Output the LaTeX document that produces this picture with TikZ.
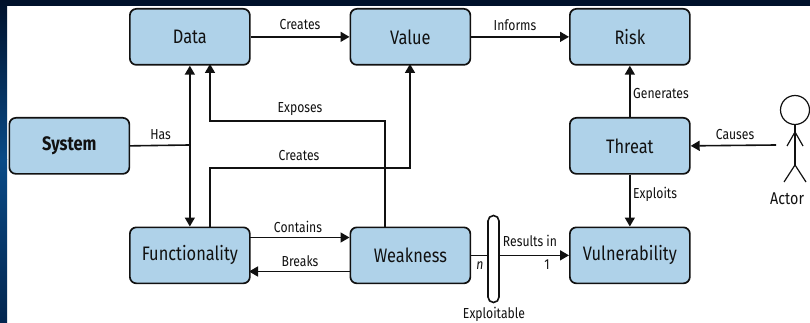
\documentclass[tikz,border=0pt]{standalone}
\usepackage{fontspec}
\setmainfont{Fira Sans}[FakeStretch=0.84]
\usetikzlibrary{arrows.meta,calc,shadings}
\definecolor{boxblue}{HTML}{AFD2E9}
\definecolor{inkc}{HTML}{111111}
\definecolor{navytop}{HTML}{00112B}
\definecolor{navymid}{HTML}{0A4A86}
\definecolor{navybot}{HTML}{03264F}
\tikzset{
  x=1pt,y=-1pt,
  box/.style={draw=inkc,line width=1.7pt,fill=boxblue,rounded corners=6.5pt,minimum width=120pt,minimum height=56pt,inner sep=0pt,font=\fontsize{19.5}{22}\selectfont,text=inkc,anchor=north west},
  lab/.style={font=\fontsize{14.5}{16}\selectfont,text=inkc,inner sep=0pt},
  conn/.style={draw=inkc,line width=1.6pt},
  arr/.style={conn,-{Triangle[length=9pt,width=10pt]}},
  darr/.style={conn,{Triangle[length=9pt,width=10pt]}-{Triangle[length=9pt,width=10pt]}},
  stick/.style={draw=inkc,line width=1.2pt}
}
\begin{document}
\begin{tikzpicture}
\useasboundingbox (0,0) rectangle (810,323);
\fill[white] (0,0) rectangle (810,323);
\fill[navytop] (0,0) rectangle (810,6);
\shade[top color=navytop,bottom color=navymid] (0,0) rectangle (7,160);
\shade[top color=navymid,bottom color=navybot] (0,160) rectangle (7,323);
\node[box] (data) at (129,8) {Data};
\node[box] (value) at (349.5,8) {Value};
\node[box] (risk) at (569,8) {Risk};
\node[box,font=\fontsize{19.5}{22}\selectfont\bfseries] (system) at (8.5,117) {System};
\node[box] (threat) at (569,117) {Threat};
\node[box] (func) at (129,226.5) {Functionality};
\node[box] (weak) at (349.5,226.5) {Weakness};
\node[box] (vuln) at (569,226.5) {Vulnerability};
\coordinate (hasj) at (189,145);
\coordinate (actorhand) at (776,145);
\coordinate (expA) at (385,121);
\coordinate (expB) at (210,121);
\coordinate (creA) at (210,168);
\coordinate (creB) at (410,168);
\draw[arr] (data.east) -- (value.west);
\draw[arr] (value.east) -- (risk.west);
\draw[conn] (system.east) -- (hasj);
\draw[darr] (data.south) -- (func.north);
\draw[arr] (385,226.5) -- (expA) -- (expB) -- (210,64);
\draw[arr] (210,226.5) -- (creA) -- (creB) -- (410,64);
\draw[arr] (249,237.5) -- (349.5,237.5);
\draw[arr] (349.5,271.5) -- (249,271.5);
\draw[arr] (threat.north) -- (risk.south);
\draw[arr] (threat.south) -- (vuln.north);
\draw[arr] (actorhand) -- (threat.east);
\draw[arr] (weak.east) -- (vuln.west);
\node[draw=inkc,line width=1.6pt,fill=white,rounded corners=5.5pt,minimum width=11pt,minimum height=87pt,inner sep=0pt] (cap) at (493.5,259) {};
\node[lab] (l1) at (300,25) {Creates};
\node[lab] (l2) at (515,25) {Informs};
\node[lab] (l3) at (160.5,135) {Has};
\node[lab] (l4) at (300,109) {Exposes};
\node[lab] (l5) at (299,156) {Creates};
\node[lab] (l6) at (298,227) {Contains};
\node[lab] (l7) at (300,261) {Breaks};
\node[lab,anchor=west] (l8) at (633,94) {Generates};
\node[lab,anchor=west] (l9) at (633,194) {Exploits};
\node[lab] (l10) at (735,135) {Causes};
\node[lab] (l11) at (530,241) {Results in};
\node[lab] (l12) at (547,265) {1};
\node[lab,font=\fontsize{14.5}{16}\selectfont\itshape] (l13) at (480,266) {n};
\node[lab] (l14) at (494,314) {Exploitable};
\node[font=\fontsize{17}{19}\selectfont,text=inkc,inner sep=0pt,anchor=west] (actorlab) at (770,199) {Actor};
\draw[stick] (795,110) circle (14.5);
\draw[stick] (795,124.5) -- (795,165);
\draw[stick] (787,146) -- (795,132) -- (803,146);
\draw[stick] (784,182) -- (795,165) -- (806,182);
\end{tikzpicture}
\end{document}
